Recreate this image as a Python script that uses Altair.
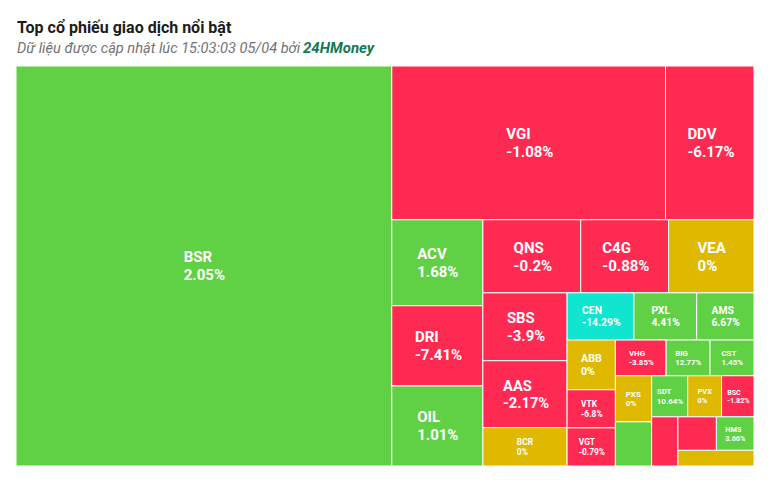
import altair as alt
import pandas as pd

# ---------------- data ----------------
tickers = ["BSR", "VGI", "DDV", "ACV", "DRI", "OIL", "QNS", "C4G", "VEA", "SBS",
           "AAS", "BCR", "CEN", "PXL", "AMS", "ABB", "VTK", "VGT", "VHG", "BIG",
           "CST", "PXS", "", "SDT", "PVX", "BSC", "", "", "HMS", ""]
values = [1502.0, 420.6, 135.9, 78.3, 73.0, 72.9, 71.5, 64.2, 62.4, 57.1,
          56.3, 32.3, 31.5, 29.6, 27.0, 24.0, 18.4, 18.4, 18.1, 15.7,
          15.7, 16.7, 16.0, 14.8, 13.9, 13.3, 12.9, 12.9, 12.6, 11.9]
changes = ["2.05%", "-1.08%", "-6.17%", "1.68%", "-7.41%", "1.01%", "-0.2%", "-0.88%", "0%", "-3.9%",
           "-2.17%", "0%", "-14.29%", "4.41%", "6.67%", "0%", "-6.8%", "-0.79%", "-3.85%", "12.77%",
           "1.45%", "0%", "", "10.64%", "0%", "-1.82%", "", "", "3.66%", ""]
status = ["up", "down", "down", "up", "down", "up", "down", "down", "ref", "down",
          "down", "ref", "floor", "up", "up", "ref", "down", "down", "down", "up",
          "up", "ref", "up", "up", "ref", "down", "down", "down", "up", "ref"]

title_text = "Top cổ phiếu giao dịch nổi bật"
subtitle_text = "Dữ liệu được cập nhật lúc 15:03:03 05/04 bởi"
brand_text = "24HMoney"

W, H = 738, 400


# ---------------- squarified layout (alternating direction) ----------------
class Group:
    def __init__(self, h, w, d):
        self.height, self.width, self.direction = h, w, d
        self.total = 0.0
        self.nW = self.lW = self.nH = self.lH = 0.0
        self.el = []
        self.lR = self.nR = None

    def add(self, a):
        prev = self.el[-1] if self.el else None
        self.total += a
        ar = lambda w, h: max(w / h, h / w)
        if self.direction == 0:
            self.lW = self.nW
            self.nW = self.total / self.height
            if prev is not None:
                self.lR = ar(self.lW, prev / self.lW)
                self.nR = ar(self.nW, prev / self.nW)
            else:
                self.lR = self.nR = None
        else:
            self.lH = self.nH
            self.nH = self.total / self.width
            if prev is not None:
                self.lR = ar(prev / self.lH, self.lH)
                self.nR = ar(prev / self.nH, self.nH)
            else:
                self.lR = self.nR = None
        self.el.append(a)

    def reset(self):
        self.nW = self.lW = 0.0
        self.el = []
        self.total = 0.0


def layout(vals, width, height):
    tot = sum(vals)
    areas = [v / tot * width * height for v in vals]
    g = Group(height, width, 0)
    pos = {"x": 0.0, "y": 0.0}
    out = []

    def calc(last):
        end = len(g.el) - 1
        gW, gH = (g.nW, g.nH) if last else (g.lW, g.lH)
        keep = None if last else g.el[end]
        for i, p in enumerate(g.el):
            if last or i < end:
                if g.direction == 0:
                    pw, ph = gW, p / gW
                    out.append((pos["x"], pos["y"], pw, ph))
                    pos["y"] += ph
                else:
                    ph, pw = gH, p / gH
                    out.append((pos["x"], pos["y"], pw, ph))
                    pos["x"] += pw
        g.reset()
        if g.direction == 0:
            g.width -= gW
        else:
            g.height -= gH
        pos["y"] = height - g.height
        pos["x"] = width - g.width
        g.direction = 1 - g.direction
        if not last:
            g.add(keep)

    n = len(areas)
    for i, a in enumerate(areas):
        g.add(a)
        if g.lR is not None and g.nR > g.lR:
            calc(False)
        if i == n - 1:
            calc(True)
    return out


rects = layout(values, W, H)

# rough Roboto-bold advance widths (em) for centring the label block
CW = {".": 0.27, "%": 0.73, "-": 0.30, "I": 0.28, "M": 0.87, "H": 0.71, "N": 0.71,
      "O": 0.69, "Q": 0.69, "G": 0.68, "L": 0.54, "E": 0.55}


def text_w(s):
    return sum(0.562 if c.isdigit() else CW.get(c, 0.64) for c in s)


rows = []
for t, v, c, s, (x, y, w, h) in zip(tickers, values, changes, status, rects):
    fs = max(6.0, min(15.0, 0.22 * min(w, h)))
    bw = max(text_w(t), text_w(c)) * fs
    cx, cy = x + w / 2, y + h / 2
    rows.append(dict(ticker=t, value=v, change=c, status=s,
                     x0=x, x1=x + w, y0=y, y1=y + h, fs=fs,
                     tx=cx - bw / 2, ty1=cy - 0.245 * fs, ty2=cy + 0.955 * fs))
df = pd.DataFrame(rows)
lab = df[df["ticker"] != ""]

xs = alt.Scale(domain=[0, W], nice=False, zero=False)
ys = alt.Scale(domain=[0, H], nice=False, zero=False, reverse=True)

color_scale = alt.Scale(domain=["up", "down", "ref", "floor"],
                        range=["#60d145", "#ff2a51", "#dfb900", "#0fe5cf"])

tiles = alt.Chart(df).mark_rect(stroke="white", strokeWidth=1).encode(
    x=alt.X("x0:Q", scale=xs, axis=None),
    x2="x1:Q",
    y=alt.Y("y0:Q", scale=ys, axis=None),
    y2="y1:Q",
    color=alt.Color("status:N", scale=color_scale, legend=None),
    tooltip=["ticker:N", "change:N", "value:Q"],
)

line1 = alt.Chart(lab).mark_text(align="left", baseline="alphabetic", color="white",
                                 font="Roboto", fontWeight="bold").encode(
    x=alt.X("tx:Q", scale=xs, axis=None),
    y=alt.Y("ty1:Q", scale=ys, axis=None),
    text="ticker:N",
    size=alt.Size("fs:Q", scale=None, legend=None),
)
line2 = alt.Chart(lab).mark_text(align="left", baseline="alphabetic", color="white",
                                 font="Roboto", fontWeight="bold").encode(
    x=alt.X("tx:Q", scale=xs, axis=None),
    y=alt.Y("ty2:Q", scale=ys, axis=None),
    text="change:N",
    size=alt.Size("fs:Q", scale=None, legend=None),
)

hdr = pd.DataFrame({"title": [title_text], "sub": [subtitle_text], "brand": [brand_text]})
t_title = alt.Chart(hdr).mark_text(align="left", baseline="alphabetic", font="Roboto",
                                   fontWeight="bold", fontSize=16, color="#1b1b1b").encode(
    x=alt.value(1), y=alt.value(-33), text="title:N")
t_sub = alt.Chart(hdr).mark_text(align="left", baseline="alphabetic", font="Roboto",
                                 fontStyle="italic", fontSize=14.6, color="#737373").encode(
    x=alt.value(1), y=alt.value(-13), text="sub:N")
t_brand = alt.Chart(hdr).mark_text(align="left", baseline="alphabetic", font="Roboto",
                                   fontStyle="italic", fontWeight="bold", fontSize=15,
                                   color="#127a57").encode(
    x=alt.value(287), y=alt.value(-13), text="brand:N")

chart = alt.layer(tiles, line1, line2, t_title, t_sub, t_brand).properties(
    width=W, height=H,
    autosize=alt.AutoSizeParams(type="none"),
    padding={"left": 8, "top": 58, "right": 8, "bottom": 8},
    background="white",
).configure_view(stroke=None)

chart.save("out.html", embed_options={"renderer": "svg", "actions": False})
